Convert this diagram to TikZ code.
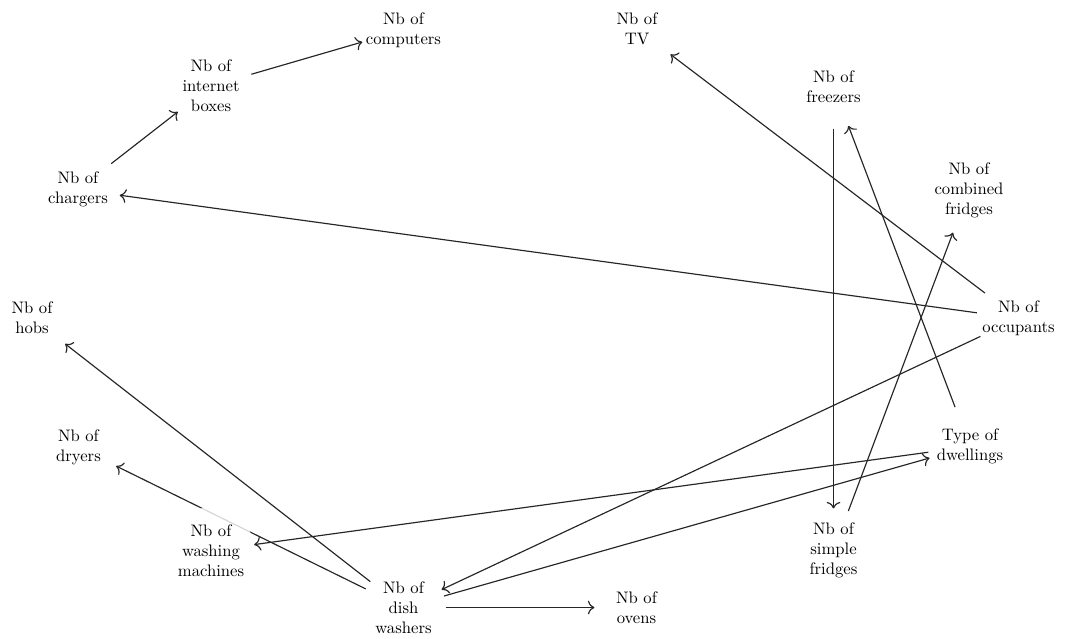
\documentclass[tikz,border=0pt]{standalone}
\usepackage{tikz}
\usetikzlibrary{arrows.meta,backgrounds}

\begin{document}
\begin{tikzpicture}[
    x=0.0211cm, y=-0.0211cm,
    var/.style={circle, fill=white, fill opacity=0.82, text opacity=1, inner sep=0.5pt, minimum size=1.76cm, align=center, font=\normalsize},
    dep/.style={-{To[scale=1.25]}, line width=0.7pt, draw=black!85}
]
\useasboundingbox (0,0) rectangle (1066,638);

% --- Upper arc ---
\node[var] (comp)  at (403.5, 30)   {Nb of\\computers};
\node[var] (inet)  at (211, 86)     {Nb of\\internet\\boxes};
\node[var] (charg) at (78, 189.5)   {Nb of\\chargers};
\node[var] (tv)    at (637, 29)     {Nb of\\TV};
\node[var] (freez) at (833.5, 86.5) {Nb of\\freezers};
\node[var] (comb)  at (969, 190)    {Nb of\\combined\\fridges};

% --- Sides ---
\node[var] (hobs)  at (32, 318)     {Nb of\\hobs};
\node[var] (occ)   at (1018.5, 318.5) {Nb of\\occupants};

% --- Lower arc ---
\node[var] (dry)   at (78.5, 447.5) {Nb of\\dryers};
\node[var] (wash)  at (211, 550.5)  {Nb of\\washing\\machines};
\node[var] (dish)  at (403.5, 607.5) {Nb of\\dish\\washers};
\node[var] (oven)  at (636.5, 607.5) {Nb of\\ovens};
\node[var] (simp)  at (833.5, 550.5) {Nb of\\simple\\fridges};
\node[var] (dwell) at (970, 446.5)  {Type of\\dwellings};

% === Dependencies (behind the nodes) ===
\begin{scope}[on background layer]
\draw[dep] (charg) -- (inet);
\draw[dep] (inet) -- (comp);
\draw[dep] (occ) -- (charg);
\draw[dep] (occ) -- (tv);
\draw[dep] (occ) -- (dish);
\draw[dep] (freez) -- (simp);
\draw[dep] (dwell) -- (freez);
\draw[dep] (simp) -- (comb);
\draw[dep] (dwell) -- (wash);
\draw[dep] (dish) -- (dwell);
\draw[dep] (dish) -- (oven);
\draw[dep] (dish) -- (hobs);
\draw[dep] (dish) -- (dry);
\end{scope}
\end{tikzpicture}
\end{document}
